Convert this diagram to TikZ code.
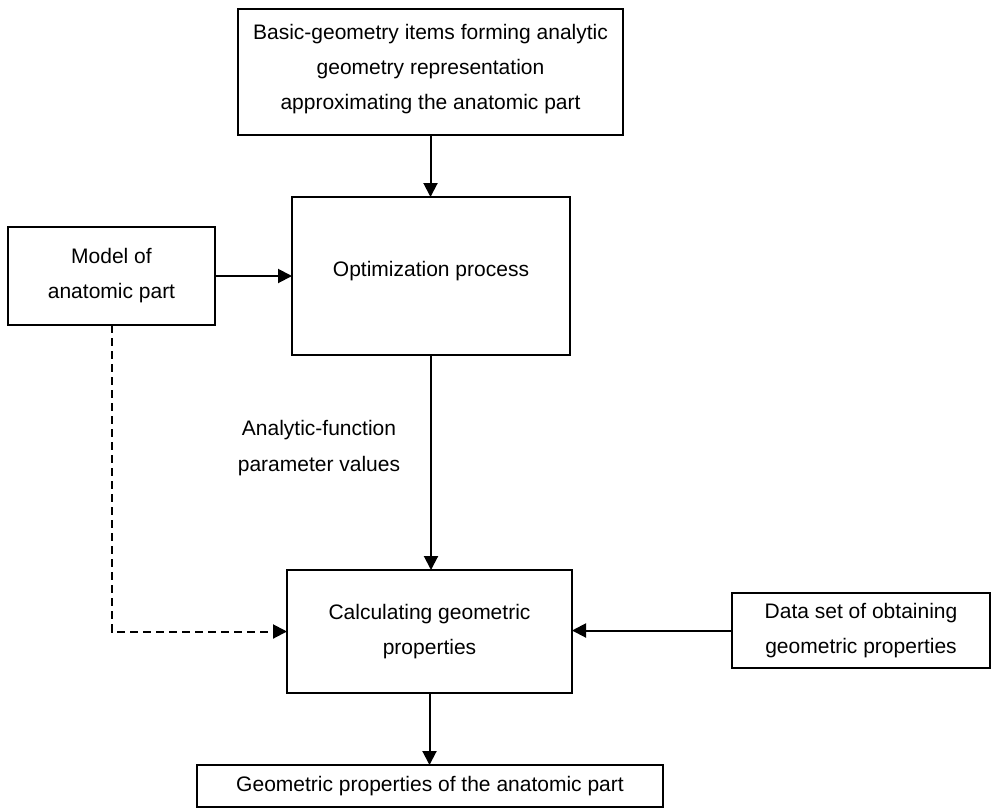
\documentclass[tikz,border=0pt]{standalone}
\usepackage{fontspec}
\setmainfont{Liberation Sans}
\usetikzlibrary{arrows.meta}

% lift a node's text a little without changing the space it takes
\newcommand{\liftup}[2]{\raisebox{#1}[\height][\depth]{#2}}

\begin{document}
\begin{tikzpicture}[x=1pt, y=-1pt,
  box/.style={draw, line width=2.4pt, rectangle, outer sep=0pt, inner sep=0pt,
    align=center, font=\fontsize{21}{35}\selectfont},
  lbl/.style={align=center, font=\fontsize{21}{36}\selectfont, inner sep=0pt},
  arr/.style={line width=2pt, -{Triangle[length=14pt,width=14pt]}},
  darr/.style={arr, dash pattern=on 8pt off 5pt}]

  \useasboundingbox (0,0) rectangle (992,809);

  % blocks
  \node[box, minimum width=385pt, minimum height=126pt] (basic) at (430.5,72)
    {\liftup{5pt}{\begin{tabular}{@{}c@{}}Basic-geometry items forming analytic\\geometry representation\\approximating the anatomic part\end{tabular}}};
  \node[box, minimum width=278pt, minimum height=158pt] (opt) at (431,276)
    {\liftup{5pt}{Optimization process}};
  \node[box, minimum width=207pt, minimum height=98pt] (model) at (111.5,276)
    {Model of\\anatomic part};
  \node[box, minimum width=285pt, minimum height=123pt] (calc) at (429.5,631.5)
    {Calculating geometric\\properties};
  \node[box, minimum width=258pt, minimum height=75pt] (data) at (861,630.5)
    {Data set of obtaining\\geometric properties};
  \node[box, minimum width=466pt, minimum height=42pt] (result) at (430,786)
    {Geometric properties of the anatomic part};

  % connector label
  \node[lbl] (param) at (319,448) {Analytic-function\\parameter values};

  % connectors
  \draw[arr] (basic.south) -- (basic.south |- opt.north);
  \draw[arr] (model.east) -- (model.east -| opt.west);
  \draw[arr] (opt.south) -- (opt.south |- calc.north);
  \draw[darr] (model.south) |- (calc.west);
  \draw[arr] (data.west) -- (data.west -| calc.east);
  \draw[arr] (calc.south) -- (calc.south |- result.north);
\end{tikzpicture}
\end{document}
